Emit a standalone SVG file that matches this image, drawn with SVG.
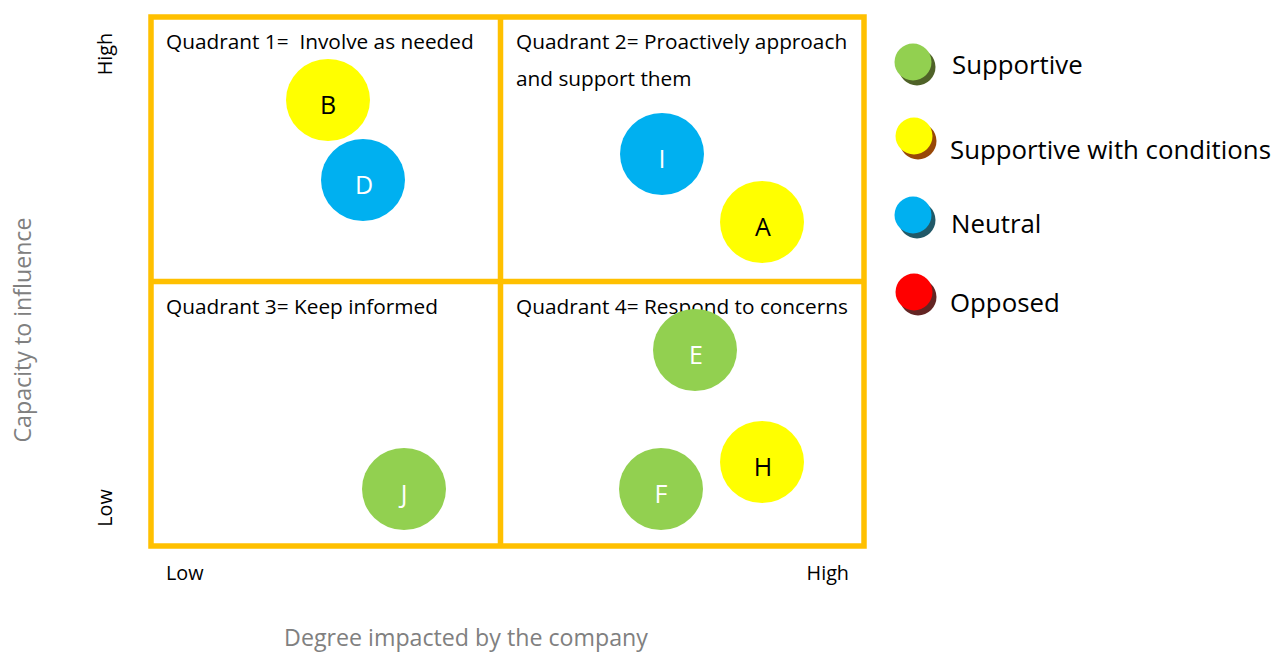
<svg xmlns="http://www.w3.org/2000/svg" width="1273" height="652" viewBox="0 0 1273 652">
<style>
.t{font-family:"Open Sans","Liberation Sans",sans-serif;fill:#000}
.q{font-size:20.8px}
.ax{font-size:19.8px}
.g{font-family:"Open Sans","Liberation Sans",sans-serif;fill:#808080;font-size:23.2px}
.lg{font-size:25.8px}
.lbl{font-family:"Open Sans","Liberation Sans",sans-serif;font-size:25px;text-anchor:middle}
.frame{fill:none;stroke:#FFC000;stroke-width:5.5}
</style>
<rect width="1273" height="652" fill="#fff"/>
<g id="grid">
<rect class="frame" x="151" y="17" width="713" height="529"/>
<line class="frame" x1="500.5" y1="17" x2="500.5" y2="546"/>
<line class="frame" x1="151" y1="281.5" x2="864" y2="281.5"/>
</g>
<g id="quadrant-labels">
<text class="t q" x="166" y="49" xml:space="preserve">Quadrant 1=  Involve as needed</text>
<text class="t q" x="516" y="49">Quadrant 2= Proactively approach</text>
<text class="t q" x="516" y="86">and support them</text>
<text class="t q" x="166" y="314">Quadrant 3= Keep informed</text>
<text class="t q" x="516" y="314">Quadrant 4= Respond to concerns</text>
</g>
<g id="node-B"><ellipse cx="328" cy="100" rx="42" ry="41" fill="#FFFF00"/><text class="lbl" x="328" y="114" fill="#000">B</text></g>
<g id="node-D"><ellipse cx="363" cy="180" rx="42" ry="41" fill="#00B0F0"/><text class="lbl" x="364" y="194" fill="#fff">D</text></g>
<g id="node-I"><ellipse cx="662" cy="154" rx="42" ry="41" fill="#00B0F0"/><text class="lbl" x="662" y="168" fill="#fff">I</text></g>
<g id="node-A"><ellipse cx="762" cy="222" rx="42" ry="41" fill="#FFFF00"/><text class="lbl" x="763" y="236" fill="#000">A</text></g>
<g id="node-E"><ellipse cx="695" cy="350" rx="42" ry="41" fill="#92D050"/><text class="lbl" x="696" y="364" fill="#fff">E</text></g>
<g id="node-H"><ellipse cx="762" cy="462" rx="42" ry="41" fill="#FFFF00"/><text class="lbl" x="763" y="476" fill="#000">H</text></g>
<g id="node-F"><ellipse cx="661" cy="489" rx="42" ry="41" fill="#92D050"/><text class="lbl" x="661" y="503" fill="#fff">F</text></g>
<g id="node-J"><ellipse cx="404" cy="489" rx="42" ry="41" fill="#92D050"/><text class="lbl" x="404" y="503" fill="#fff">J</text></g>
<g id="legend">
<circle cx="917" cy="67" r="18.5" fill="#4F6228"/><circle cx="913" cy="62" r="18.5" fill="#92D050"/>
<text class="t lg" x="952" y="74">Supportive</text>
<circle cx="918" cy="141" r="18.5" fill="#984807"/><circle cx="914" cy="136" r="18.5" fill="#FFFF00"/>
<text class="t lg" x="950" y="159">Supportive with conditions</text>
<circle cx="917" cy="220" r="18.5" fill="#215968"/><circle cx="913" cy="215" r="18.5" fill="#00B0F0"/>
<text class="t lg" x="951" y="233">Neutral</text>
<circle cx="918" cy="297" r="18.5" fill="#632523"/><circle cx="914" cy="292" r="18.5" fill="#FF0000"/>
<text class="t lg" x="950" y="312">Opposed</text>
</g>
<g id="axes">
<text class="t ax" x="166" y="580">Low</text>
<text class="t ax" x="849" y="580" text-anchor="end">High</text>
<text class="g" x="466" y="646" text-anchor="middle">Degree impacted by the company</text>
<text class="t ax" transform="translate(112,54) rotate(-90)" text-anchor="middle">High</text>
<text class="t ax" transform="translate(112,508) rotate(-90)" text-anchor="middle">Low</text>
<text class="g" transform="translate(31,330) rotate(-90)" text-anchor="middle">Capacity to influence</text>
</g>
</svg>
